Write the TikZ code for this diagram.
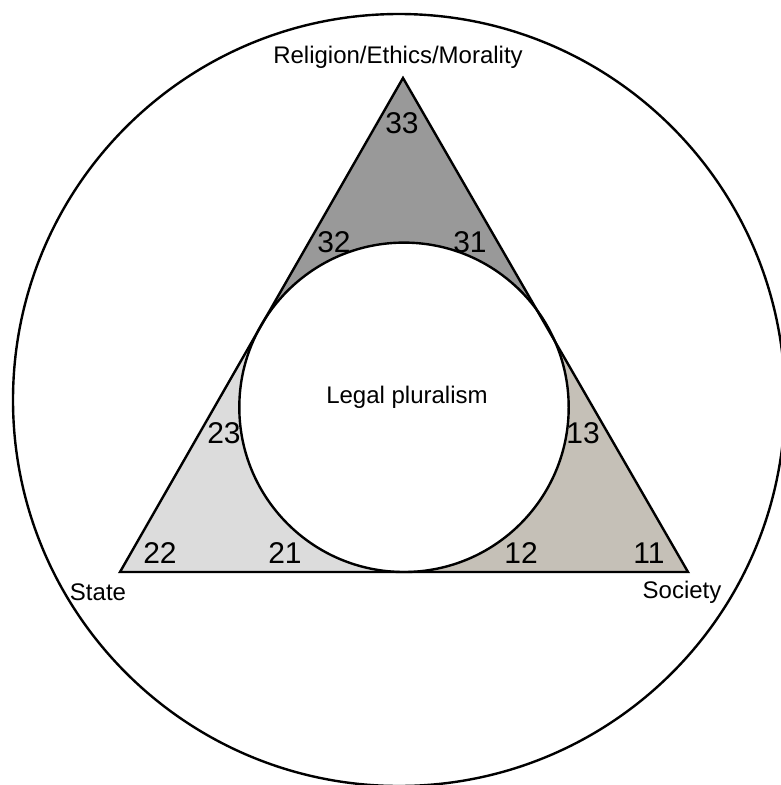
\documentclass[tikz,border=0pt]{standalone}
\usepackage{fontspec}
\setmainfont{Liberation Sans}
\usetikzlibrary{calc}
\definecolor{topgray}{RGB}{153,153,153}
\definecolor{leftgray}{RGB}{220,220,220}
\definecolor{rightgray}{RGB}{197,192,183}
\begin{document}
\begin{tikzpicture}[x=1pt,y=-1pt,
  outline/.style={draw=black,line width=2.4pt,line join=miter},
  lbl/.style={anchor=base,inner sep=0pt,font=\fontsize{24}{28}\selectfont},
  num/.style={anchor=base,inner sep=0pt,font=\fontsize{30}{34}\selectfont}]
\useasboundingbox (0,0) rectangle (781,785);
% key points
\coordinate (A) at (403,78);
\coordinate (B) at (120,572);
\coordinate (C) at (688,572);
\coordinate (I) at (404,407.3);
\coordinate (TL) at ($(A)!0.5!(B)$);
\coordinate (TR) at ($(A)!0.5!(C)$);
\coordinate (TB) at ($(B)!0.5!(C)$);
% outer circle
\draw[outline] (399,400) circle[radius=386];
% region fills
\fill[topgray] (A) -- (TR) -- (I) -- (TL) -- cycle;
\fill[leftgray] (B) -- (TL) -- (I) -- (TB) -- cycle;
\fill[rightgray] (C) -- (TB) -- (I) -- (TR) -- cycle;
% inner circle
\draw[outline,fill=white] (I) circle[radius=164.7];
% triangle
\draw[outline] (A) -- (B) -- (C) -- cycle;
% labels
\node[lbl] (rem) at (398,63) {Religion/Ethics/Morality};
\node[lbl] (state) at (98,600) {State};
\node[lbl] (soc) at (682,598) {Society};
\node[lbl] (lp) at (407,403) {Legal pluralism};
% numbers
\node[num] (n33) at (402,133) {33};
\node[num] (n32) at (334,252) {32};
\node[num] (n31) at (470,252) {31};
\node[num] (n23) at (224,443) {23};
\node[num] (n22) at (160,563) {22};
\node[num] (n21) at (285,563) {21};
\node[num] (n13) at (583,443) {13};
\node[num] (n12) at (521,563) {12};
\node[num] (n11) at (649,563) {11};
\end{tikzpicture}
\end{document}
